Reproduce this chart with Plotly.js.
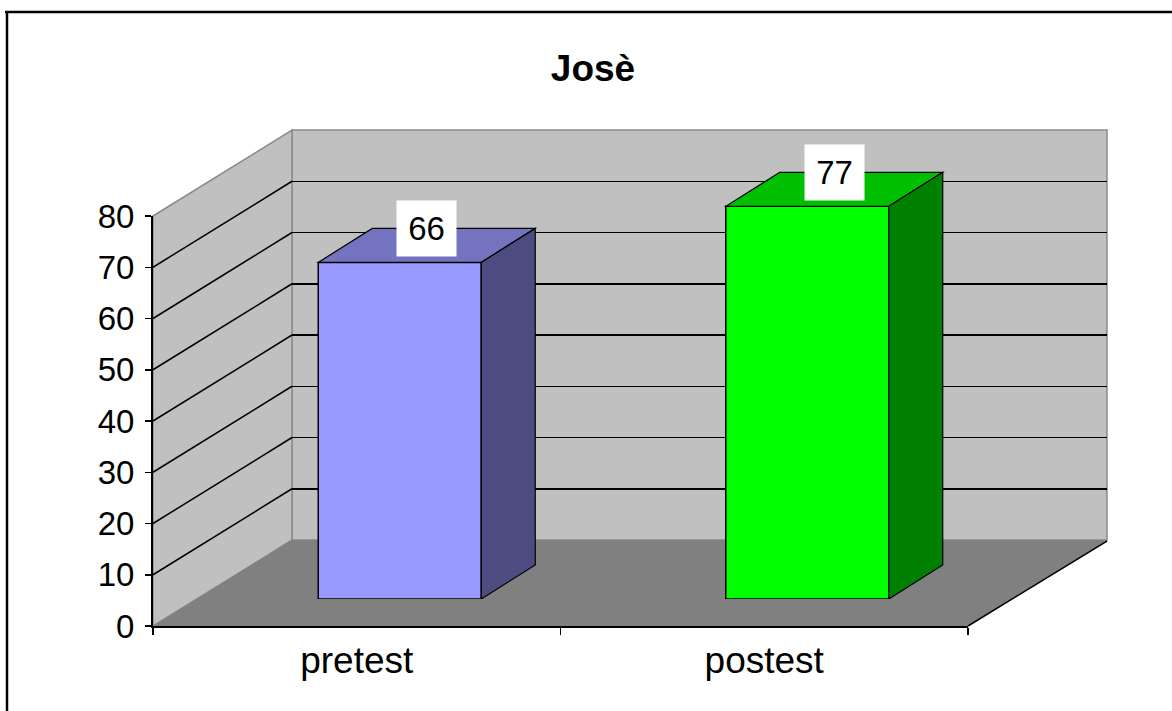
<!DOCTYPE html>
<html><head><meta charset="utf-8">
<script src="https://cdn.plot.ly/plotly-3.0.1.min.js"></script>
<style>html,body{margin:0;padding:0;background:#fff}#chart{width:1172px;height:711px}</style>
</head><body><div id="chart"></div>
<script>
// ---- data ----
const categories = ['pretest', 'postest'];
const scores = [66, 77];
const frontColors = ['#9999ff', '#00ff00'];
const topColors = ['#7373bf', '#00bf00'];
const sideColors = ['#4c4c80', '#008000'];
const yTicks = [0, 10, 20, 30, 40, 50, 60, 70, 80];
const chartTitle = 'Josè';

// ---- layout helpers ----
const W = 1172, H = 711;
const px = x => x / W, py = y => 1 - y / H;
const FONT = '"Liberation Sans", Arial, sans-serif';
const BAR_W = 0.4;            // bar width as fraction of a category
const DX = 0.1325, DY = 6.67; // bar depth offset in bar-axis units
const P = pts => 'M' + pts.map(p => px(p[0]) + ',' + py(p[1])).join('L') + 'Z';
const innerTicks = yTicks.filter(v => v > 0 && v < 80);

const shapes = [];
// back wall, side wall, floor (decoration)
shapes.push({type:'path', xref:'paper', yref:'paper', layer:'below',
  path: P([[292,130],[1107,130],[1107,540],[292,540]]), fillcolor:'#c0c0c0', line:{color:'#8a8a8a', width:1.5}});
shapes.push({type:'path', xref:'paper', yref:'paper', layer:'below',
  path: P([[153,216],[292,130],[292,540],[153,626]]), fillcolor:'#c0c0c0', line:{color:'#8a8a8a', width:1.5}});
shapes.push({type:'path', xref:'paper', yref:'paper', layer:'below',
  path: P([[153,626],[292,540],[1107,540],[968,626]]), fillcolor:'#808080', line:{width:0}});
shapes.push({type:'line', xref:'paper', yref:'paper', layer:'below',
  x0:px(968), y0:py(626), x1:px(1107), y1:py(541), line:{color:'#000', width:1.5}});
// side wall gridlines, anchored at tick values on the back-wall axis, running to the front
innerTicks.forEach(v => {
  shapes.push({type:'line', xref:'paper', yref:'y2', layer:'below',
    x0:px(292), x1:px(153), ysizemode:'pixel', yanchor:v, y0:0, y1:-86,
    line:{color:'#000', width:1.5}});
});
// 3D bar top and side faces
const annotations = [];
scores.forEach((v, i) => {
  const xl = i - BAR_W/2, xr = i + BAR_W/2;
  shapes.push({type:'path', xref:'x3', yref:'y3', layer:'above',
    path:`M${xl},${v}L${xr},${v}L${xr+DX},${v+DY}L${xl+DX},${v+DY}Z`,
    fillcolor: topColors[i], line:{color:'#000', width:1.2}});
  shapes.push({type:'path', xref:'x3', yref:'y3', layer:'above',
    path:`M${xr},0L${xr},${v}L${xr+DX},${v+DY}L${xr+DX},${DY}Z`,
    fillcolor: sideColors[i], line:{color:'#000', width:1.2}});
  annotations.push({xref:'x3', yref:'y3', x: i + DX/2, y: v + DY, text: String(v),
    showarrow:false, bgcolor:'#ffffff', width:45, height:41, borderpad:7,
    xanchor:'center', yanchor:'middle', font:{family:FONT, size:33, color:'#000'}});
});
// outer frame (top and left edges visible)
shapes.push({type:'line', xref:'paper', yref:'paper', layer:'above',
  x0:px(5), y0:py(12), x1:1, y1:py(12), line:{color:'#000', width:2.5}});
shapes.push({type:'line', xref:'paper', yref:'paper', layer:'above',
  x0:px(7), y0:py(11), x1:px(7), y1:0, line:{color:'#000', width:2.5}});

const traces = [{
  type:'bar', x: categories.map((c, i) => i), y: scores, xaxis:'x3', yaxis:'y3',
  width: BAR_W, marker:{color: frontColors, line:{color:'#000', width:1.5}},
  hoverinfo:'skip', showlegend:false
}, {
  // invisible trace so the labelled category axis has its categories
  type:'scatter', x: categories, y: [null, null], xaxis:'x', yaxis:'y', mode:'markers',
  hoverinfo:'skip', showlegend:false
}, {
  // invisible trace so the back-wall subplot (gridlines) exists
  type:'scatter', x: [0.5], y: [null], xaxis:'x2', yaxis:'y2', mode:'markers',
  hoverinfo:'skip', showlegend:false
}];

const layout = {
  width: W, height: H, margin:{l:0, r:0, t:0, b:0},
  paper_bgcolor:'#ffffff', plot_bgcolor:'rgba(0,0,0,0)',
  showlegend:false, hovermode:false,
  font:{family:FONT, color:'#000'},
  title:{text:'<b>' + chartTitle + '</b>', x:px(593), y:py(68), xref:'paper', yref:'paper',
    xanchor:'center', yanchor:'middle', font:{family:FONT, size:37, color:'#000'}},
  xaxis:{domain:[px(153), px(968)], type:'category', categoryorder:'array', categoryarray:categories,
    range:[-0.5, 1.5], anchor:'y', showgrid:false, zeroline:false, showline:true,
    linecolor:'#000', linewidth:2, ticks:'outside', ticklen:7, tickwidth:1.5, tickcolor:'#000',
    tickson:'boundaries', tickfont:{family:FONT, size:37, color:'#000'}, ticklabelstandoff:1, fixedrange:true},
  yaxis:{domain:[py(626), py(216)], range:[0, 80], anchor:'x', tickvals:yTicks, ticktext:yTicks.map(String),
    showgrid:false, zeroline:false, showline:true, linecolor:'#000', linewidth:2,
    ticks:'outside', ticklen:6, tickwidth:1.5, tickcolor:'#000',
    tickfont:{family:FONT, size:33, color:'#000'}, ticklabelstandoff:4, fixedrange:true},
  xaxis2:{domain:[px(292), px(1107)], range:[0, 1], anchor:'y2', visible:false, showgrid:false, fixedrange:true},
  yaxis2:{domain:[py(626), py(130)], range:[-86/5.125, 80], anchor:'x2', tickvals:innerTicks,
    showgrid:true, gridcolor:'#000', gridwidth:1.5, showticklabels:false, ticks:'', showline:false,
    zeroline:false, fixedrange:true},
  xaxis3:{domain:[px(196), px(1011)], range:[-0.5, 1.5], anchor:'y3', type:'linear', visible:false,
    showgrid:false, zeroline:false, fixedrange:true},
  yaxis3:{domain:[py(599), py(89)], range:[0, 100], anchor:'x3', visible:false,
    showgrid:false, zeroline:false, fixedrange:true},
  shapes: shapes,
  annotations: annotations
};

Plotly.newPlot('chart', traces, layout, {staticPlot:true, displayModeBar:false});
</script>
</body></html>
